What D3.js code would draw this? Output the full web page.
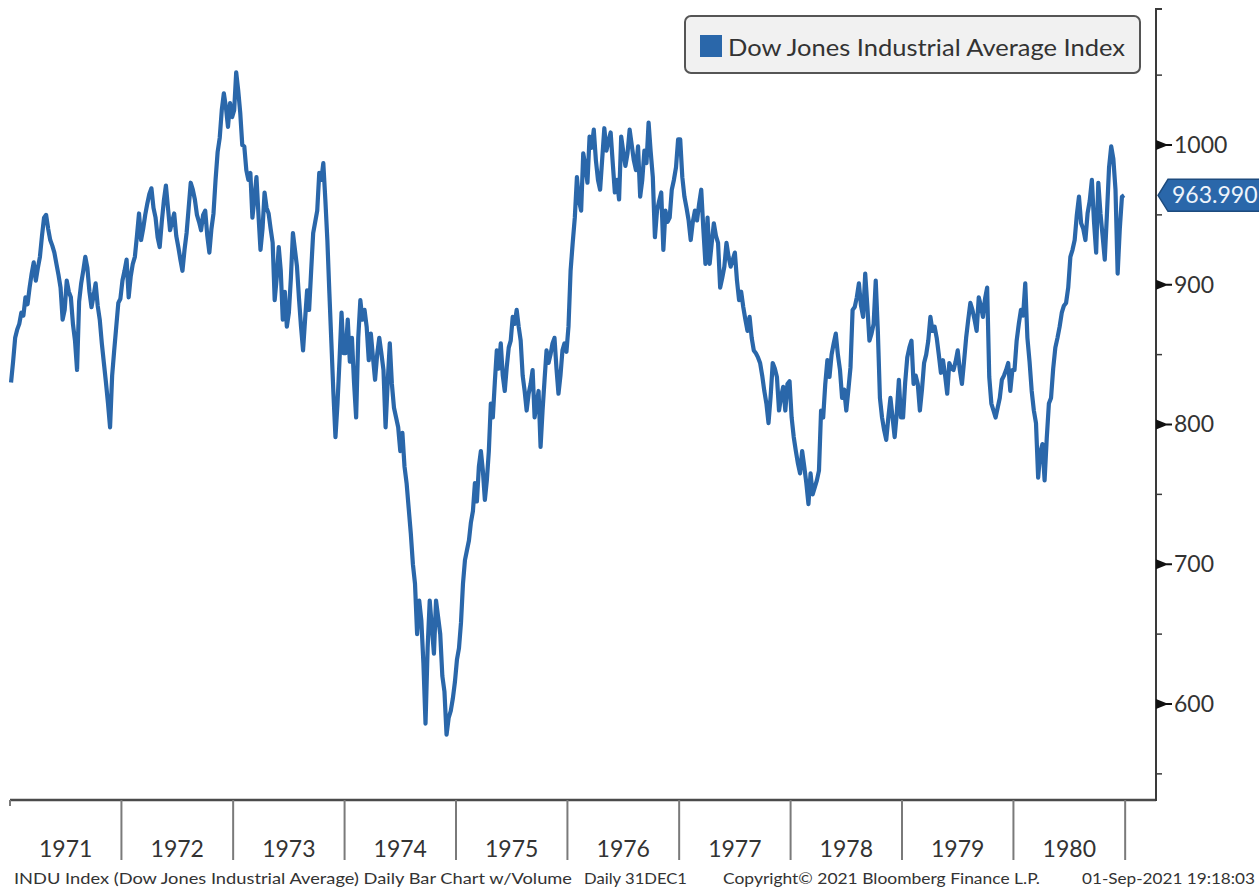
<!DOCTYPE html>
<html>
<head>
<meta charset="utf-8">
<script src="https://cdn.jsdelivr.net/npm/d3@7"></script>
<style>
  body { margin: 0; background: #fff; }
  svg { display: block; font-family: Lato, "Open Sans", sans-serif; }
</style>
</head>
<body>
<svg id="chart" width="1259" height="888"></svg>
<script>
// Weekly closes of the Dow, one list per year
let djia1971 = [830, 845, 862, 868, 872, 880, 878, 891, 886, 898, 908, 916, 903, 912, 920, 935, 948, 950, 940, 932, 928, 923, 915, 907, 898, 875, 882, 903, 895, 891, 872, 860, 839, 888, 901, 910, 920, 912, 895, 884, 892, 901, 885, 875, 858, 844, 830, 815, 798, 835, 853, 870, 887, 890]
let djia1972 = [903, 910, 918, 891, 906, 915, 920, 935, 951, 932, 940, 950, 958, 965, 969, 955, 948, 934, 927, 945, 960, 971, 955, 939, 945, 951, 935, 927, 918, 910, 925, 937, 955, 973, 968, 961, 950, 945, 939, 950, 953, 935, 923, 940, 951, 975, 995, 1005, 1025, 1037, 1027, 1013, 1030, 1020]
let djia1973 = [1025, 1052, 1039, 1023, 1000, 999, 982, 975, 980, 948, 962, 977, 950, 925, 940, 966, 955, 951, 940, 930, 889, 905, 927, 910, 875, 895, 870, 880, 905, 937, 925, 913, 890, 870, 853, 875, 896, 882, 910, 937, 945, 953, 980, 975, 987, 961, 932, 894, 858, 822, 791, 815, 846, 880, 851]
let djia1974 = [851, 875, 845, 862, 830, 805, 862, 889, 875, 882, 870, 846, 865, 848, 832, 850, 862, 851, 839, 798, 830, 858, 829, 812, 805, 798, 781, 794, 770, 758, 740, 722, 700, 686, 650, 674, 660, 629, 586, 640, 674, 655, 636, 674, 662, 650, 620, 609, 578, 590, 595, 604, 616]
let djia1975 = [632, 640, 658, 686, 703, 710, 717, 730, 738, 758, 745, 770, 781, 767, 746, 760, 781, 815, 805, 830, 853, 840, 858, 835, 824, 841, 855, 860, 877, 872, 882, 870, 860, 835, 824, 810, 822, 829, 839, 805, 815, 824, 784, 810, 832, 853, 844, 850, 858, 862, 840, 822, 835, 853, 858, 852]
let djia1976 = [870, 910, 930, 948, 977, 960, 953, 994, 985, 973, 1006, 998, 1011, 989, 975, 968, 990, 1012, 996, 1003, 1009, 987, 966, 975, 961, 1006, 995, 985, 994, 1011, 1000, 989, 982, 999, 963, 975, 996, 987, 1016, 995, 977, 934, 953, 960, 966, 925, 953, 945, 948, 968, 975, 984, 1004]
let djia1977 = [1004, 977, 963, 955, 946, 932, 945, 953, 946, 958, 968, 940, 915, 948, 915, 930, 944, 935, 930, 898, 905, 913, 930, 920, 913, 918, 923, 903, 889, 895, 884, 875, 867, 877, 862, 853, 851, 848, 844, 835, 824, 815, 801, 820, 844, 840, 834, 810, 820, 827, 810, 829, 831]
let djia1978 = [805, 791, 781, 772, 765, 781, 770, 758, 743, 765, 750, 755, 760, 767, 810, 805, 829, 846, 834, 850, 858, 865, 850, 839, 819, 825, 810, 825, 841, 882, 884, 891, 901, 885, 877, 908, 885, 860, 865, 872, 903, 867, 819, 805, 796, 789, 805, 819, 805, 791, 808, 832, 805]
let djia1979 = [805, 830, 848, 855, 860, 829, 835, 829, 810, 825, 844, 850, 860, 877, 867, 870, 862, 850, 837, 846, 835, 822, 844, 840, 839, 845, 853, 839, 829, 845, 862, 875, 887, 882, 875, 867, 891, 885, 877, 890, 898, 834, 815, 810, 805, 812, 819, 832, 835, 839, 844, 824, 839]
let djia1980 = [839, 860, 872, 882, 878, 901, 862, 845, 824, 810, 801, 762, 780, 786, 760, 790, 815, 819, 840, 855, 862, 870, 880, 885, 887, 898, 920, 925, 932, 950, 963, 944, 940, 932, 951, 960, 975, 945, 923, 973, 951, 935, 918, 950, 984, 999, 990, 968, 908, 940, 963, 964]

let years = [1971, 1972, 1973, 1974, 1975, 1976, 1977, 1978, 1979, 1980]
let seriesByYear = [djia1971, djia1972, djia1973, djia1974, djia1975, djia1976, djia1977, djia1978, djia1979, djia1980]
let yTicks = [600, 700, 800, 900, 1000]
let yMinorTicks = [550, 650, 750, 850, 950, 1050]
let lastValue = 963.990

let legendLabel = 'Dow Jones Industrial Average Index'
let footerTitle = 'INDU Index (Dow Jones Industrial Average) Daily Bar Chart w/Volume'
let footerPeriod = 'Daily 31DEC1'
let footerCopy = 'Copyright\u00a9 2021 Bloomberg Finance L.P.'
let footerStamp = '01-Sep-2021 19:18:03'

// Plot constants
let plotL = 10, plotR = 1156, plotT = 10, plotB = 800
let lineColor = '#2a67aa'
let textColor = '#333'

let svg = d3.select('#chart')

let x = d3.scaleTime()
  .domain([new Date(1971, 0, 1), new Date(1981, 3, 12)])
  .range([plotL, plotR])

let y = d3.scaleLinear()
  .domain([531.3, 1096.6])
  .range([plotB, plotT])

// Spread each year's weekly values across that year
let data = []
seriesByYear.forEach(function(vals, k) {
  let start = new Date(years[k], 0, 1)
  let end = new Date(years[k] + 1, 0, 1)
  vals.forEach(function(v, i) {
    data.push({date: new Date(+start + (i + 0.5) / vals.length * (end - start)), value: v})
  })
})

// The price line
let line = d3.line()
  .x(d => x(d.date))
  .y(d => y(d.value))

svg.append('path')
  .datum(data)
  .attr('d', line)
  .attr('fill', 'none')
  .attr('stroke', lineColor)
  .attr('stroke-width', 4.2)
  .attr('stroke-linejoin', 'round')

// Bottom axis line and year separators
svg.append('line')
  .attr('x1', plotL).attr('x2', plotR)
  .attr('y1', plotB).attr('y2', plotB)
  .attr('stroke', '#4a4a4a').attr('stroke-width', 2.5)

let yearEdges = years.concat([years[years.length - 1] + 1])
svg.selectAll('.year-tick')
  .data(yearEdges)
  .enter().append('line')
  .attr('class', 'year-tick')
  .attr('x1', d => x(new Date(d, 0, 1)))
  .attr('x2', d => x(new Date(d, 0, 1)))
  .attr('y1', plotB)
  .attr('y2', (d, i) => i === 0 ? plotB + 6 : 860)
  .attr('stroke', '#7a7a7a').attr('stroke-width', 2)

svg.selectAll('.year-label')
  .data(years)
  .enter().append('text')
  .attr('class', 'year-label')
  .attr('x', d => (x(new Date(d, 0, 1)) + x(new Date(d + 1, 0, 1))) / 2)
  .attr('y', 857)
  .attr('text-anchor', 'middle')
  .attr('font-size', 23)
  .attr('fill', textColor)
  .text(d => d)

// Right axis
svg.append('line')
  .attr('x1', plotR).attr('x2', plotR)
  .attr('y1', plotT - 2).attr('y2', plotB + 1)
  .attr('stroke', '#3a3a3a').attr('stroke-width', 2)

svg.append('line')
  .attr('x1', plotR).attr('x2', plotR + 6)
  .attr('y1', plotT - 1).attr('y2', plotT - 1)
  .attr('stroke', '#3a3a3a').attr('stroke-width', 2)

svg.selectAll('.minor-tick')
  .data(yMinorTicks)
  .enter().append('line')
  .attr('class', 'minor-tick')
  .attr('x1', plotR).attr('x2', plotR + 6)
  .attr('y1', d => y(d)).attr('y2', d => y(d))
  .attr('stroke', '#3a3a3a').attr('stroke-width', 1.5)

let major = svg.selectAll('.major-tick')
  .data(yTicks)
  .enter().append('g')
  .attr('class', 'major-tick')
  .attr('transform', d => `translate(${plotR},${y(d)})`)

major.append('path')
  .attr('d', 'M0,-5L10,-1L16,-1L16,1L10,1L0,5Z')
  .attr('fill', '#111')

major.append('text')
  .attr('x', 18)
  .attr('y', 8)
  .attr('font-size', 23)
  .attr('fill', textColor)
  .text(d => d)

// Last price flag
let lastY = y(lastValue)
let flag = svg.append('g').attr('transform', `translate(${plotR + 2},${lastY})`)
flag.append('path')
  .attr('d', 'M0,0L10,-16L102,-16L102,16L10,16Z')
  .attr('fill', '#2a67aa')
  .attr('stroke', '#1d4b7e')
  .attr('stroke-width', 1.5)
flag.append('text')
  .attr('x', 14)
  .attr('y', 8)
  .attr('font-size', 23)
  .attr('fill', '#eef4fb')
  .text(d3.format('.3f')(lastValue))

// Legend
let legend = svg.append('g')
legend.append('rect')
  .attr('x', 685).attr('y', 16)
  .attr('width', 455).attr('height', 57)
  .attr('rx', 6)
  .attr('fill', '#f1f1f1')
  .attr('stroke', '#555').attr('stroke-width', 2)
legend.append('rect')
  .attr('x', 700).attr('y', 35)
  .attr('width', 22).attr('height', 22)
  .attr('fill', lineColor)
legend.append('text')
  .attr('x', 728).attr('y', 56)
  .attr('font-size', 23)
  .attr('fill', textColor)
  .attr('textLength', 397)
  .attr('lengthAdjust', 'spacingAndGlyphs')
  .text(legendLabel)

// Footer
let footer = [
  {text: footerTitle, x: 14, len: 558},
  {text: footerPeriod, x: 584, len: 103},
  {text: footerCopy, x: 723, len: 317},
  {text: footerStamp, x: 1082, len: 173},
]
svg.selectAll('.footer')
  .data(footer)
  .enter().append('text')
  .attr('class', 'footer')
  .attr('x', d => d.x)
  .attr('y', 884)
  .attr('font-size', 16)
  .attr('fill', textColor)
  .attr('textLength', d => d.len)
  .attr('lengthAdjust', 'spacingAndGlyphs')
  .text(d => d.text)
</script>
</body>
</html>
